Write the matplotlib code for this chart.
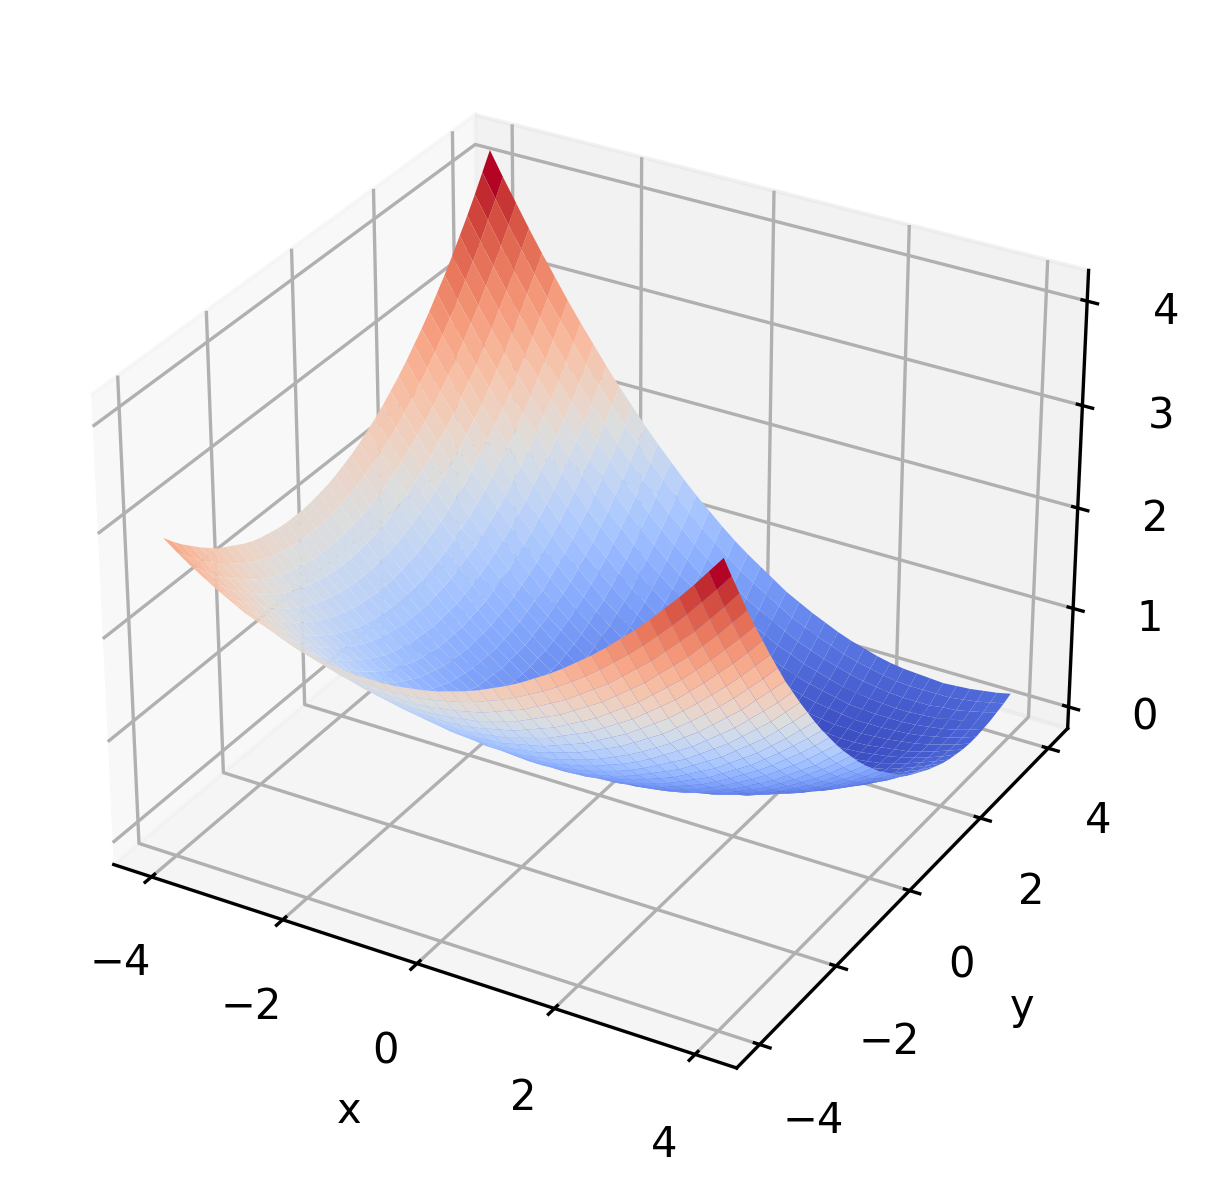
import matplotlib
matplotlib.use('Agg')
import matplotlib.pyplot as plt
import numpy as np

x_vals = [-4.0, -3.8, -3.6, -3.4, -3.2, -3.0, -2.8, -2.6, -2.4, -2.2, -2.0, -1.8, -1.6, -1.4, -1.2, -1.0, -0.8, -0.6, -0.4, -0.2, 0.0,
          0.2, 0.4, 0.6, 0.8, 1.0, 1.2, 1.4, 1.6, 1.8, 2.0, 2.2, 2.4, 2.6, 2.8, 3.0, 3.2, 3.4, 3.6, 3.8, 4.0]
y_vals = list(x_vals)
# heights, one row per y value
z_rows = [
    [2.88,2.78,2.69,2.61,2.53,2.46,2.39,2.34,2.29,2.24,2.20,2.17,2.15,2.13,2.12,2.12,2.12,2.13,2.15,2.17,2.20,2.24,2.28,2.33,2.39,2.45,2.52,2.60,2.68,2.77,2.87,2.97,3.08,3.20,3.32,3.45,3.59,3.73,3.88,4.04,4.20],
    [2.78,2.68,2.59,2.50,2.42,2.34,2.28,2.22,2.16,2.11,2.07,2.04,2.01,1.99,1.98,1.97,1.97,1.98,1.99,2.01,2.04,2.07,2.11,2.16,2.21,2.27,2.34,2.41,2.49,2.58,2.67,2.77,2.88,2.99,3.11,3.24,3.37,3.51,3.66,3.81,3.97],
    [2.69,2.59,2.49,2.40,2.31,2.24,2.17,2.10,2.04,1.99,1.95,1.91,1.88,1.86,1.84,1.83,1.83,1.83,1.84,1.86,1.88,1.91,1.94,1.99,2.04,2.09,2.16,2.23,2.30,2.39,2.48,2.57,2.68,2.79,2.90,3.03,3.16,3.29,3.44,3.59,3.75],
    [2.61,2.50,2.40,2.30,2.22,2.14,2.06,1.99,1.93,1.88,1.83,1.79,1.76,1.73,1.71,1.70,1.69,1.69,1.70,1.71,1.73,1.75,1.79,1.83,1.87,1.93,1.99,2.05,2.13,2.21,2.29,2.39,2.49,2.59,2.71,2.83,2.95,3.09,3.23,3.38,3.53],
    [2.53,2.42,2.31,2.22,2.13,2.04,1.96,1.89,1.83,1.77,1.72,1.68,1.64,1.61,1.59,1.57,1.56,1.56,1.56,1.57,1.58,1.61,1.64,1.67,1.72,1.77,1.82,1.89,1.96,2.03,2.12,2.21,2.30,2.41,2.52,2.63,2.76,2.89,3.03,3.17,3.32],
    [2.46,2.34,2.24,2.14,2.04,1.95,1.87,1.80,1.73,1.67,1.62,1.57,1.53,1.50,1.47,1.45,1.44,1.43,1.43,1.43,1.45,1.47,1.49,1.53,1.57,1.61,1.67,1.73,1.79,1.87,1.95,2.03,2.13,2.23,2.33,2.45,2.57,2.70,2.83,2.97,3.12],
    [2.39,2.28,2.17,2.06,1.96,1.87,1.79,1.71,1.64,1.58,1.52,1.47,1.43,1.39,1.36,1.34,1.32,1.31,1.30,1.31,1.32,1.33,1.36,1.39,1.42,1.47,1.52,1.57,1.64,1.71,1.78,1.87,1.96,2.05,2.16,2.27,2.39,2.51,2.64,2.78,2.92],
    [2.34,2.22,2.10,1.99,1.89,1.80,1.71,1.63,1.56,1.49,1.43,1.38,1.33,1.29,1.26,1.23,1.21,1.19,1.19,1.19,1.19,1.21,1.23,1.25,1.29,1.33,1.37,1.43,1.49,1.55,1.63,1.71,1.79,1.89,1.99,2.10,2.21,2.33,2.46,2.59,2.73],
    [2.29,2.16,2.04,1.93,1.83,1.73,1.64,1.56,1.48,1.41,1.35,1.29,1.24,1.19,1.16,1.13,1.10,1.09,1.08,1.07,1.08,1.08,1.10,1.12,1.15,1.19,1.23,1.28,1.34,1.40,1.47,1.55,1.63,1.73,1.82,1.93,2.04,2.15,2.28,2.41,2.54],
    [2.24,2.11,1.99,1.88,1.77,1.67,1.58,1.49,1.41,1.34,1.27,1.21,1.15,1.11,1.07,1.03,1.01,0.99,0.97,0.97,0.97,0.97,0.98,1.00,1.03,1.06,1.10,1.15,1.20,1.26,1.33,1.41,1.49,1.57,1.67,1.77,1.87,1.99,2.11,2.23,2.37],
    [2.20,2.07,1.95,1.83,1.72,1.62,1.52,1.43,1.35,1.27,1.20,1.13,1.08,1.03,0.98,0.95,0.92,0.89,0.88,0.87,0.86,0.86,0.87,0.89,0.91,0.94,0.98,1.02,1.07,1.13,1.20,1.27,1.34,1.43,1.52,1.61,1.72,1.83,1.94,2.07,2.20],
    [2.17,2.04,1.91,1.79,1.68,1.57,1.47,1.38,1.29,1.21,1.13,1.07,1.01,0.95,0.91,0.87,0.83,0.81,0.79,0.77,0.76,0.76,0.77,0.78,0.80,0.83,0.86,0.90,0.95,1.01,1.07,1.13,1.21,1.29,1.37,1.47,1.57,1.67,1.79,1.91,2.04],
    [2.15,2.01,1.88,1.76,1.64,1.53,1.43,1.33,1.24,1.15,1.08,1.01,0.94,0.89,0.84,0.79,0.76,0.73,0.70,0.69,0.68,0.67,0.67,0.68,0.70,0.73,0.76,0.79,0.84,0.89,0.94,1.01,1.08,1.15,1.24,1.33,1.42,1.53,1.64,1.76,1.88],
    [2.13,1.99,1.86,1.73,1.61,1.50,1.39,1.29,1.19,1.11,1.03,0.95,0.89,0.83,0.77,0.73,0.69,0.65,0.63,0.61,0.59,0.59,0.59,0.59,0.61,0.63,0.65,0.69,0.73,0.77,0.83,0.89,0.95,1.03,1.11,1.19,1.29,1.39,1.50,1.61,1.73],
    [2.12,1.98,1.84,1.71,1.59,1.47,1.36,1.26,1.16,1.07,0.98,0.91,0.84,0.77,0.72,0.67,0.62,0.59,0.56,0.53,0.52,0.51,0.50,0.51,0.52,0.53,0.56,0.59,0.62,0.67,0.72,0.77,0.84,0.91,0.99,1.07,1.16,1.26,1.36,1.47,1.59],
    [2.12,1.97,1.83,1.70,1.57,1.45,1.34,1.23,1.13,1.03,0.95,0.87,0.79,0.73,0.67,0.61,0.57,0.53,0.49,0.47,0.45,0.43,0.43,0.43,0.43,0.45,0.47,0.49,0.53,0.57,0.61,0.67,0.73,0.80,0.87,0.95,1.04,1.13,1.23,1.34,1.45],
    [2.12,1.97,1.83,1.69,1.56,1.44,1.32,1.21,1.10,1.01,0.92,0.83,0.76,0.69,0.62,0.56,0.51,0.47,0.43,0.40,0.38,0.36,0.35,0.35,0.35,0.36,0.38,0.40,0.43,0.47,0.51,0.57,0.62,0.69,0.76,0.83,0.92,1.01,1.10,1.21,1.32],
    [2.13,1.98,1.83,1.69,1.56,1.43,1.31,1.19,1.09,0.99,0.89,0.81,0.73,0.65,0.59,0.53,0.47,0.42,0.38,0.35,0.32,0.30,0.29,0.28,0.28,0.29,0.30,0.32,0.35,0.39,0.43,0.47,0.53,0.59,0.65,0.73,0.81,0.90,0.99,1.09,1.20],
    [2.15,1.99,1.84,1.70,1.56,1.43,1.30,1.19,1.08,0.97,0.88,0.79,0.70,0.62,0.55,0.49,0.43,0.38,0.34,0.30,0.27,0.25,0.23,0.22,0.22,0.22,0.23,0.25,0.28,0.31,0.34,0.39,0.44,0.49,0.56,0.63,0.71,0.79,0.88,0.98,1.08],
    [2.17,2.01,1.86,1.71,1.57,1.43,1.31,1.19,1.07,0.97,0.87,0.77,0.69,0.61,0.53,0.46,0.40,0.35,0.30,0.26,0.23,0.20,0.18,0.17,0.17,0.17,0.17,0.19,0.21,0.23,0.27,0.31,0.35,0.41,0.47,0.54,0.61,0.69,0.78,0.87,0.97],
    [2.20,2.04,1.88,1.73,1.58,1.45,1.32,1.19,1.08,0.97,0.86,0.77,0.68,0.59,0.51,0.44,0.38,0.32,0.27,0.23,0.19,0.16,0.14,0.13,0.12,0.11,0.12,0.13,0.14,0.17,0.20,0.23,0.28,0.33,0.39,0.45,0.52,0.60,0.68,0.77,0.87],
    [2.24,2.07,1.91,1.75,1.61,1.47,1.33,1.21,1.09,0.97,0.87,0.77,0.67,0.59,0.51,0.43,0.37,0.31,0.25,0.21,0.17,0.13,0.11,0.09,0.07,0.07,0.07,0.07,0.09,0.11,0.13,0.17,0.21,0.26,0.31,0.37,0.44,0.51,0.59,0.68,0.77],
    [2.28,2.11,1.95,1.79,1.64,1.49,1.36,1.23,1.10,0.99,0.88,0.77,0.68,0.59,0.50,0.43,0.36,0.29,0.24,0.19,0.14,0.11,0.08,0.05,0.04,0.03,0.02,0.03,0.04,0.06,0.08,0.11,0.15,0.19,0.24,0.30,0.36,0.43,0.51,0.59,0.69],
    [2.33,2.16,1.99,1.83,1.67,1.53,1.39,1.25,1.13,1.01,0.89,0.79,0.69,0.59,0.51,0.43,0.35,0.29,0.23,0.17,0.13,0.09,0.05,0.03,0.01,-0.01,-0.01,-0.01,0.00,0.01,0.03,0.06,0.09,0.13,0.18,0.23,0.29,0.36,0.43,0.52,0.60],
    [2.39,2.21,2.04,1.87,1.72,1.57,1.42,1.29,1.16,1.03,0.92,0.81,0.70,0.61,0.52,0.43,0.36,0.29,0.22,0.17,0.12,0.07,0.04,0.01,-0.02,-0.03,-0.04,-0.04,-0.04,-0.03,-0.01,0.01,0.04,0.08,0.12,0.17,0.23,0.30,0.37,0.44,0.53],
    [2.45,2.27,2.09,1.93,1.77,1.61,1.47,1.33,1.19,1.07,0.95,0.83,0.73,0.62,0.53,0.44,0.36,0.29,0.22,0.17,0.11,0.07,0.03,-0.01,-0.03,-0.05,-0.07,-0.07,-0.07,-0.07,-0.05,-0.03,0.00,0.03,0.07,0.12,0.17,0.23,0.30,0.37,0.46],
    [2.52,2.33,2.16,1.99,1.82,1.67,1.52,1.37,1.24,1.11,0.98,0.87,0.76,0.65,0.56,0.47,0.38,0.31,0.24,0.17,0.12,0.07,0.02,-0.01,-0.04,-0.07,-0.08,-0.09,-0.10,-0.09,-0.08,-0.06,-0.04,-0.01,0.03,0.07,0.12,0.18,0.24,0.32,0.39],
    [2.60,2.41,2.23,2.05,1.89,1.73,1.57,1.43,1.29,1.15,1.03,0.91,0.79,0.69,0.59,0.49,0.41,0.33,0.25,0.19,0.13,0.07,0.03,-0.01,-0.05,-0.07,-0.09,-0.10,-0.11,-0.11,-0.10,-0.09,-0.07,-0.04,-0.01,0.03,0.08,0.13,0.20,0.26,0.34],
    [2.68,2.49,2.30,2.13,1.96,1.79,1.64,1.49,1.34,1.21,1.08,0.95,0.84,0.73,0.62,0.53,0.44,0.35,0.28,0.21,0.14,0.09,0.04,-0.01,-0.04,-0.07,-0.09,-0.11,-0.12,-0.12,-0.12,-0.11,-0.09,-0.07,-0.04,0.00,0.05,0.10,0.15,0.22,0.29],
    [2.77,2.58,2.39,2.21,2.03,1.87,1.71,1.55,1.41,1.27,1.13,1.01,0.89,0.77,0.67,0.57,0.47,0.39,0.31,0.23,0.17,0.11,0.06,0.01,-0.03,-0.06,-0.09,-0.11,-0.12,-0.13,-0.13,-0.12,-0.11,-0.09,-0.06,-0.02,0.02,0.06,0.12,0.18,0.25],
    [2.87,2.67,2.48,2.29,2.12,1.95,1.78,1.63,1.48,1.33,1.20,1.07,0.94,0.83,0.72,0.61,0.52,0.43,0.34,0.27,0.20,0.14,0.08,0.03,-0.01,-0.05,-0.08,-0.10,-0.12,-0.13,-0.13,-0.13,-0.12,-0.10,-0.07,-0.04,-0.01,0.04,0.09,0.15,0.21],
    [2.97,2.77,2.57,2.39,2.21,2.03,1.87,1.71,1.55,1.41,1.27,1.13,1.01,0.89,0.77,0.67,0.57,0.47,0.39,0.31,0.24,0.17,0.11,0.06,0.01,-0.03,-0.06,-0.09,-0.11,-0.12,-0.13,-0.13,-0.12,-0.10,-0.08,-0.06,-0.02,0.02,0.07,0.12,0.18],
    [3.08,2.88,2.68,2.49,2.30,2.13,1.96,1.79,1.64,1.49,1.34,1.21,1.08,0.95,0.84,0.73,0.63,0.53,0.44,0.36,0.28,0.21,0.15,0.09,0.04,0.00,-0.04,-0.07,-0.09,-0.11,-0.11,-0.12,-0.11,-0.10,-0.08,-0.06,-0.03,0.01,0.05,0.10,0.16],
    [3.20,2.99,2.79,2.59,2.41,2.23,2.05,1.89,1.73,1.57,1.43,1.29,1.15,1.03,0.91,0.79,0.69,0.59,0.49,0.41,0.33,0.26,0.19,0.13,0.08,0.03,-0.01,-0.04,-0.07,-0.09,-0.10,-0.11,-0.11,-0.10,-0.08,-0.06,-0.04,0.00,0.04,0.09,0.14],
    [3.32,3.11,2.91,2.71,2.52,2.33,2.16,1.99,1.82,1.67,1.52,1.37,1.24,1.11,0.98,0.87,0.76,0.66,0.56,0.47,0.39,0.31,0.24,0.18,0.12,0.07,0.03,-0.01,-0.04,-0.06,-0.08,-0.08,-0.09,-0.08,-0.07,-0.05,-0.03,0.00,0.04,0.08,0.13],
    [3.45,3.24,3.03,2.83,2.64,2.45,2.27,2.10,1.93,1.77,1.62,1.47,1.33,1.20,1.07,0.95,0.84,0.73,0.63,0.54,0.45,0.37,0.30,0.23,0.17,0.12,0.07,0.03,0.00,-0.02,-0.04,-0.06,-0.06,-0.06,-0.05,-0.04,-0.02,0.01,0.04,0.08,0.13],
    [3.59,3.37,3.16,2.96,2.76,2.57,2.39,2.21,2.04,1.88,1.72,1.57,1.43,1.29,1.16,1.04,0.92,0.81,0.71,0.61,0.52,0.44,0.36,0.29,0.23,0.17,0.12,0.08,0.05,0.02,-0.01,-0.02,-0.03,-0.03,-0.03,-0.02,0.00,0.02,0.05,0.09,0.14],
    [3.73,3.51,3.30,3.09,2.89,2.70,2.51,2.33,2.16,1.99,1.83,1.68,1.53,1.39,1.26,1.13,1.01,0.90,0.79,0.69,0.60,0.51,0.43,0.36,0.29,0.24,0.18,0.14,0.10,0.06,0.04,0.02,0.01,0.00,0.00,0.01,0.02,0.05,0.07,0.11,0.15],
    [3.88,3.66,3.44,3.23,3.03,2.83,2.64,2.46,2.28,2.11,1.95,1.79,1.64,1.50,1.36,1.23,1.11,0.99,0.88,0.78,0.68,0.59,0.51,0.44,0.37,0.30,0.25,0.20,0.16,0.12,0.09,0.07,0.05,0.04,0.04,0.04,0.06,0.07,0.10,0.13,0.17],
    [4.04,3.81,3.59,3.38,3.17,2.97,2.78,2.59,2.41,2.24,2.07,1.91,1.76,1.61,1.47,1.34,1.21,1.09,0.98,0.87,0.77,0.68,0.60,0.52,0.44,0.38,0.32,0.27,0.22,0.18,0.15,0.12,0.10,0.09,0.09,0.09,0.09,0.11,0.13,0.16,0.19],
    [4.20,3.97,3.75,3.53,3.32,3.12,2.92,2.73,2.55,2.37,2.20,2.04,1.88,1.73,1.59,1.45,1.32,1.20,1.08,0.97,0.87,0.78,0.69,0.60,0.53,0.46,0.40,0.34,0.29,0.25,0.21,0.18,0.16,0.15,0.14,0.13,0.14,0.15,0.17,0.19,0.22],
]

X, Y = np.meshgrid(x_vals, y_vals)
Z = np.array(z_rows)

fig = plt.figure(figsize=(1209 / 300, 1196 / 300), dpi=300)
ax = fig.add_axes([30 / 1209, 58 / 1196, 1109 / 1209, 1109 / 1196], projection='3d')
ax.plot_surface(X, Y, Z, cmap='coolwarm', rstride=1, cstride=1, linewidth=0)
ax.set_xlabel('x')
ax.set_ylabel('y')

fig.savefig('out.png', dpi=300)
